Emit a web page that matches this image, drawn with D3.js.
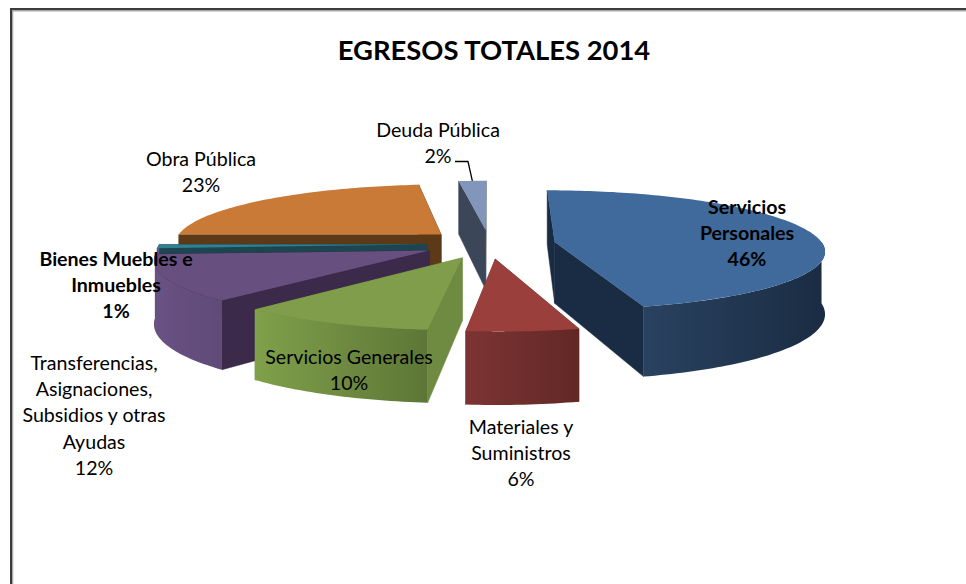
<!DOCTYPE html>
<html>
<head>
<meta charset="utf-8">
<script src="https://cdn.jsdelivr.net/npm/d3@7"></script>
<style>
  html, body { margin: 0; padding: 0; background: #fff; }
  svg { display: block; }
  text { font-family: Lato, "Open Sans", sans-serif; fill: #000; }
</style>
</head>
<body>
<svg id="chart"></svg>
<script>
// Chart data
const categories = ['Servicios Personales', 'Materiales y Suministros', 'Servicios Generales',
  'Transferencias, Asignaciones, Subsidios y otras Ayudas', 'Bienes Muebles e Inmuebles',
  'Obra Pública', 'Deuda Pública'];
// The labels show them rounded
const percents = [45.8, 5.72, 10.08, 12.4, 1, 23.1, 1.9];

// Slice colours
const topColors = ['#3f6a9b', '#9a3f3c', '#7f9d4a', '#674f80', '#2f8093', '#c97a37', '#8296bc'];
const sideColors = ['#1a2c43', '#6e2e2c', '#6f8a41', '#3b2a4a', '#1d4550', '#5c3a18', '#3b4659'];
const rimLeftColors = ['#294260', '#7c3433', '#80a04a', '#6a5284', '#6a5284', '#5c3a18', '#3b4659'];
const rimRightColors = ['#1a2c43', '#622826', '#5d7637', '#5f4a78', '#6a5284', '#5c3a18', '#3b4659'];

// Label layout, one entry per slice
const labelLines = [
  ['Servicios', 'Personales'],
  ['Materiales y', 'Suministros'],
  ['Servicios Generales'],
  ['Transferencias,', 'Asignaciones,', 'Subsidios y otras', 'Ayudas'],
  ['Bienes Muebles e', 'Inmuebles'],
  ['Obra Pública'],
  ['Deuda Pública']
];
const labelCenterX = [747, 521, 349, 94, 116, 201, 438];
const labelTopY = [208, 428, 358, 364, 260, 160, 131];
const labelBold = [true, false, false, false, true, false, false];

const width = 966;
const height = 584;

// Pie geometry (world units are px at the depth of the pie centre)
const cx = 489.5;
const cy = 244;
const radius = 268;
const explode = [66, 66, 66, 66, 62, 66, 66];
const depth = 61.5;
const tilt = 0.22;
const perspective = 0.13;

const svg = d3.select('#chart')
    .attr('width', width)
    .attr('height', height);

// Frame, left and top edges only
const frame = svg.append('g').attr('fill', 'none');
frame.append('path')
    .attr('d', `M12.5,${height}V10.7H${width}`)
    .attr('stroke', '#a8a8a8')
    .attr('stroke-width', 1.5);
frame.append('path')
    .attr('d', `M11,${height}V9H${width}`)
    .attr('stroke', '#3c3c3c')
    .attr('stroke-width', 2);

svg.append('text')
    .attr('x', 494)
    .attr('y', 60)
    .attr('text-anchor', 'middle')
    .attr('font-size', 27.4)
    .attr('font-weight', 700)
    .text('EGRESOS TOTALES 2014');

// Project a point of the pie plane to the screen; drop is the distance below the top face
function project(px, py, drop) {
  const s = 1 / (1 + perspective * py / radius);
  return [cx + px * s, cy + (drop - py * tilt) * s];
}

const pie = d3.pie().sort(null).value(d => d);
const line = d3.line();
const slices = pie(percents).map((d, i) => {
  const mid = (d.startAngle + d.endAngle) / 2;
  return {
    i,
    start: d.startAngle,
    end: d.endAngle,
    mid,
    ox: explode[i] * Math.sin(mid),
    oy: explode[i] * Math.cos(mid)
  };
});

const apex = (d, drop) => project(d.ox, d.oy, drop);
const rimPoint = (d, a, drop) => project(
  d.ox + radius * Math.sin(a),
  d.oy + radius * Math.cos(a),
  drop
);

// Points along the outer edge between two angles
function rim(d, from, to, drop) {
  const steps = Math.max(2, Math.ceil((to - from) / 0.02));
  return d3.range(steps + 1).map(k => rimPoint(d, from + (to - from) * k / steps, drop));
}

const defs = svg.append('defs');
const pieG = svg.append('g').attr('class', 'pie');

// Back slices first so the front ones paint over them
const ordered = slices.slice().sort((a, b) => b.oy - a.oy);

ordered.forEach(d => {
  const g = pieG.append('g').attr('class', 'slice');
  const side = sideColors[d.i];

  // Radial walls, back one first
  [d.start, d.end]
    .sort((a, b) => Math.cos(b) - Math.cos(a))
    .forEach(a => {
      g.append('path')
          .attr('d', line([apex(d, 0), rimPoint(d, a, 0), rimPoint(d, a, depth), apex(d, depth)]) + 'Z')
          .attr('fill', side)
          .attr('stroke', side)
          .attr('stroke-width', 0.5);
    });

  // Outer wall, only the part that faces the viewer
  const from = Math.max(d.start, Math.PI / 2);
  const to = Math.min(d.end, Math.PI * 1.5);
  if (to > from) {
    const upper = rim(d, from, to, 0);
    const lower = rim(d, from, to, depth).reverse();
    const xs = upper.map(p => p[0]);
    const gradId = `rim-${d.i}`;
    const grad = defs.append('linearGradient')
        .attr('id', gradId)
        .attr('gradientUnits', 'userSpaceOnUse')
        .attr('x1', d3.min(xs))
        .attr('x2', d3.max(xs))
        .attr('y1', 0)
        .attr('y2', 0);
    grad.append('stop').attr('offset', 0).attr('stop-color', rimLeftColors[d.i]);
    grad.append('stop').attr('offset', 1).attr('stop-color', rimRightColors[d.i]);
    g.append('path')
        .attr('d', line(upper.concat(lower)) + 'Z')
        .attr('fill', `url(#${gradId})`);
  }

  // Top face
  g.append('path')
      .attr('d', line([apex(d, 0)].concat(rim(d, d.start, d.end, 0))) + 'Z')
      .attr('fill', topColors[d.i]);
});

// Labels
const labels = svg.append('g').attr('class', 'labels')
    .attr('text-anchor', 'middle')
    .attr('font-size', 19.6);
const lineStep = 26.2;

categories.forEach((name, i) => {
  const lines = labelLines[i].concat(`${Math.round(percents[i])}%`);
  const t = labels.append('text')
      .attr('font-weight', labelBold[i] ? 700 : 400)
      .attr('transform', `translate(${labelCenterX[i]},${labelTopY[i] + 6})`);
  t.selectAll('tspan')
    .data(lines)
    .join('tspan')
      .attr('x', 0)
      .attr('y', (l, k) => k * lineStep)
      .text(l => l);
});

// Leader line of the smallest slice
const small = slices[slices.length - 1];
const leaderEnd = rimPoint(small, small.mid, 0);
svg.append('path')
    .attr('d', line([[455, labelTopY[6] + 30.5], [468, labelTopY[6] + 30.5], leaderEnd]))
    .attr('fill', 'none')
    .attr('stroke', '#000')
    .attr('stroke-width', 1.3);
</script>
</body>
</html>
